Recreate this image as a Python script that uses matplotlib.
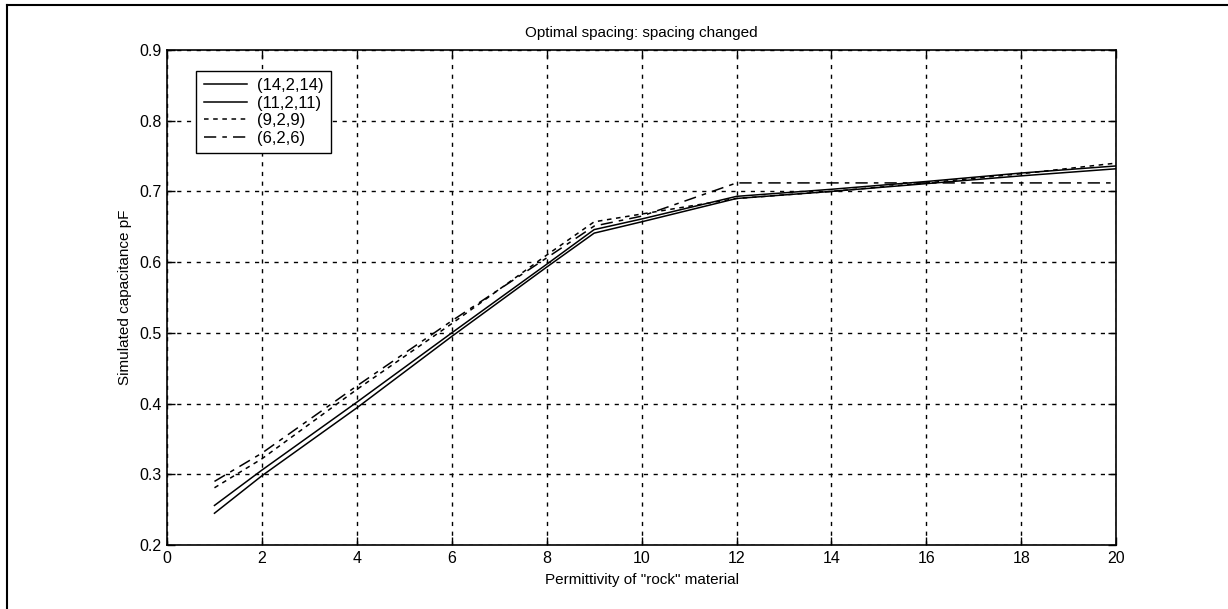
import matplotlib
matplotlib.use("Agg")
import matplotlib.pyplot as plt
from matplotlib.lines import Line2D

plt.rcParams['font.family'] = ['Liberation Sans', 'DejaVu Sans']

# permittivity values and simulated capacitance (pF)
eps = [1, 2, 4, 6, 8, 9, 10, 12, 14, 16, 18, 20]
cap_14 = [0.245, 0.298, 0.394, 0.495, 0.593, 0.641, 0.657, 0.690, 0.700, 0.711, 0.722, 0.732]
cap_11 = [0.256, 0.306, 0.402, 0.500, 0.597, 0.646, 0.661, 0.693, 0.703, 0.714, 0.726, 0.736]
cap_9 = [0.281, 0.322, 0.420, 0.513, 0.610, 0.657, 0.668, 0.690, 0.700, 0.712, 0.725, 0.740]
cap_6 = [0.290, 0.330, 0.425, 0.517, 0.606, 0.651, 0.665, 0.712, 0.712, 0.712, 0.712, 0.712]
labels = ["(14,2,14)", "(11,2,11)", "(9,2,9)", "(6,2,6)"]

fig = plt.figure(figsize=(12.28, 6.09), dpi=100)
ax = fig.add_axes([0.136, 0.105, 0.773, 0.813])

ax.plot(eps, cap_14, color="black", lw=1.1, ls="-", label=labels[0])
ax.plot(eps, cap_11, color="black", lw=1.1, ls="-", label=labels[1])
ax.plot(eps, cap_9, color="black", lw=1.1, ls=(0, (3, 3)), label=labels[2])
ax.plot(eps, cap_6, color="black", lw=1.1, ls=(0, (8, 4, 3, 4)), label=labels[3])

ax.set_xlim(0, 20)
ax.set_ylim(0.2, 0.9)
ax.set_xticks(range(0, 21, 2))
ax.set_yticks([0.2, 0.3, 0.4, 0.5, 0.6, 0.7, 0.8, 0.9])
ax.grid(True, color="black", ls=(0, (3, 4)), lw=1.0)
ax.tick_params(direction="in", top=True, right=True, length=6, labelsize=11.5, width=1, pad=4)
for s in ax.spines.values():
    s.set_linewidth(1.2)

ax.set_title("Optimal spacing: spacing changed", fontsize=11, pad=9)
ax.set_xlabel('Permittivity of "rock" material', fontsize=11, labelpad=5)
ax.set_ylabel("Simulated capacitance pF", fontsize=11, labelpad=5)

leg = ax.legend(loc="upper left", bbox_to_anchor=(0.022, 0.975), fontsize=12,
                frameon=True, fancybox=False, edgecolor="black", framealpha=1,
                handlelength=2.6, handletextpad=0.6, borderpad=0.45, labelspacing=0.15)
leg.get_frame().set_linewidth(1.0)

# outer frame of the scanned figure
fig.add_artist(Line2D([0.006, 0.006], [0.0, 0.992], color="black", lw=1.5, transform=fig.transFigure))
fig.add_artist(Line2D([0.006, 1.0], [0.992, 0.992], color="black", lw=1.5, transform=fig.transFigure))

fig.savefig("out.png", dpi=100)
